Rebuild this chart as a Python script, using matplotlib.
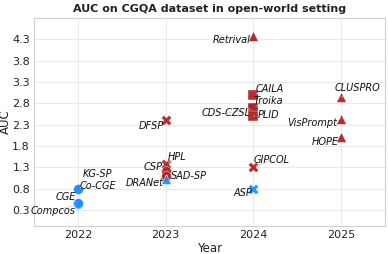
import matplotlib
matplotlib.use("Agg")
import matplotlib.pyplot as plt

methods = ["Compcos", "CGE", "Co-CGE", "KG-SP",
           "DFSP", "HPL", "CSP", "SAD-SP", "DRANet",
           "Retrival", "CAILA", "Troika", "CDS-CZSL", "PLID", "GIPCOL", "ASP",
           "CLUSPRO", "VisPrompt", "HOPE"]
years = [2022, 2022, 2022, 2022,
         2023, 2023, 2023, 2023, 2023,
         2024, 2024, 2024, 2024, 2024, 2024, 2024,
         2025, 2025, 2025]
auc = [0.43, 0.47, 0.80, 0.78,
       2.40, 1.37, 1.20, 1.10, 1.02,
       4.39, 3.00, 2.70, 2.68, 2.50, 1.30, 0.80,
       2.94, 2.44, 2.00]
groups = ["b", "b", "b", "b",
          "r", "r", "r", "r", "b",
          "r", "r", "r", "r", "r", "r", "b",
          "r", "r", "r"]
markers = ["o", "o", "o", "o",
           "X", "X", "o", "o", "^",
           "^", "s", "s", "s", "s", "X", "X",
           "^", "^", "^"]
yticks = [0.3, 0.8, 1.3, 1.8, 2.3, 2.8, 3.3, 3.8, 4.3]
xticks = [2022, 2023, 2024, 2025]

colors = {"b": "#1e90ff", "r": "#b22222"}

# label placement (offset points, ha)
label_pos = {
    "Compcos": (-1.5, -5, "right"),
    "CGE": (-1.5, 4, "right"),
    "Co-CGE": (1.5, 1.5, "left"),
    "KG-SP": (3.5, 11, "left"),
    "DFSP": (-1.5, -4, "right"),
    "HPL": (1.5, 5, "left"),
    "CSP": (-2, 3.5, "right"),
    "SAD-SP": (3.5, 0, "left"),
    "DRANet": (-1.5, -3, "right"),
    "Retrival": (-2, -3.5, "right"),
    "CAILA": (1.5, 4.5, "left"),
    "Troika": (0, 5, "left"),
    "CDS-CZSL": (-2, -3.5, "right"),
    "PLID": (3, 1, "left"),
    "GIPCOL": (0, 5, "left"),
    "ASP": (-1, -3.5, "right"),
    "CLUSPRO": (11.5, 6.5, "center"),
    "VisPrompt": (-3, -3, "right"),
    "HOPE": (-2, -3.5, "right"),
}

fig = plt.figure(figsize=(3.88, 2.54), dpi=100)
ax = fig.add_axes([0.088, 0.110, 0.904, 0.819])

for m, x, y, g, mk in zip(methods, years, auc, groups, markers):
    ax.scatter(x, y, marker=mk, s=50 if mk != "X" else 55, color=colors[g],
               alpha=0.95, edgecolors="white", linewidths=0.3, zorder=3)

for m, x, y in zip(methods, years, auc):
    dx, dy, ha = label_pos[m]
    ax.annotate(m, (x, y), xytext=(dx, dy), textcoords="offset points",
                ha=ha, va="center", fontsize=7, fontstyle="italic",
                color="#111111", zorder=4,
                arrowprops=dict(arrowstyle="-", color="#cccccc", lw=0.5,
                                shrinkA=0, shrinkB=2))

ax.set_xlim(2021.5, 2025.5)
ax.set_ylim(-0.08, 4.8)
ax.set_xticks(xticks)
ax.set_xticklabels([str(v) for v in xticks])
ax.set_yticks(yticks)
ax.set_yticklabels([f"{v:.1f}" for v in yticks])
ax.tick_params(axis="both", labelsize=8, length=0, pad=3, colors="#222222")
ax.grid(True, color="#e6e6e6", linewidth=0.6, zorder=0)
ax.set_axisbelow(True)
for s in ax.spines.values():
    s.set_color("#d0d0d0")
    s.set_linewidth(0.8)
ax.set_xlabel("Year", fontsize=8.5, labelpad=1, color="#222222")
ax.set_ylabel("AUC", fontsize=8.5, color="#222222")
ax.yaxis.set_label_coords(-0.064, 0.5)
ax.set_title("AUC on CGQA dataset in open-world setting", fontsize=8,
             fontweight="bold", pad=4, color="#222222")

fig.savefig("out.png", dpi=100)
